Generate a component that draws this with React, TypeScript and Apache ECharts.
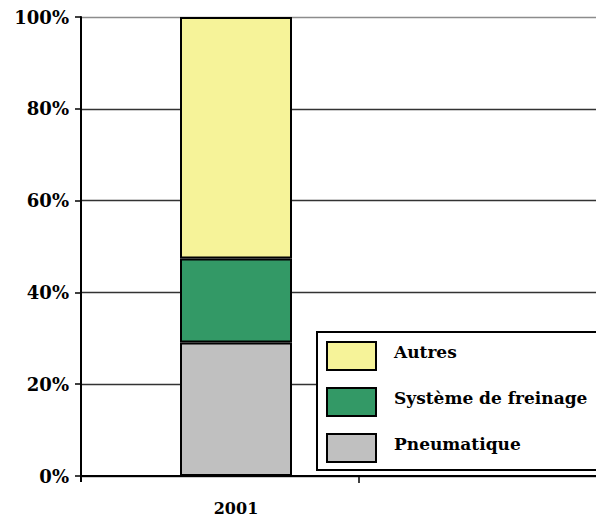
import React, { useEffect, useRef } from "react";
import * as echarts from "echarts";

const categories = ["2001"];
const pneumatique = [29.1];
const freinage = [18.3];
const autres = [52.6];
const yTicks = [0, 20, 40, 60, 80, 100];
const legendOrder = ["Autres", "Système de freinage", "Pneumatique"];

const FONT = "DejaVu Serif";

export default function App() {
  const ref = useRef<HTMLDivElement>(null);
  useEffect(() => {
    if (!ref.current) return;
    const chart = echarts.init(ref.current, null, { renderer: "svg" });
    const barStyle = (color: string) => ({
      color,
      borderColor: "#000",
      borderWidth: 2,
    });
    chart.setOption({
      animation: false,
      backgroundColor: "#fff",
      textStyle: { fontFamily: FONT },
      grid: [
        { left: 81, right: 0, top: 17, bottom: 43 },
        { left: 81, width: 310, top: 17, bottom: 43 },
      ],
      xAxis: [
        {
          type: "category",
          gridIndex: 0,
          data: [""],
          axisLine: { show: true, lineStyle: { color: "#000", width: 2 } },
          axisTick: { show: false },
          axisLabel: { show: false },
          splitLine: { show: false },
        },
        {
          type: "category",
          gridIndex: 1,
          data: categories,
          axisLine: { show: false },
          axisTick: { show: false },
          axisLabel: {
            margin: 24,
            color: "#000",
            fontFamily: FONT,
            fontWeight: "bold",
            fontSize: 16,
          },
        },
      ],
      yAxis: [
        {
          type: "value",
          gridIndex: 0,
          min: yTicks[0],
          max: yTicks[yTicks.length - 1],
          interval: 20,
          axisLine: { show: true, lineStyle: { color: "#000", width: 2 } },
          axisTick: { show: true, length: 6, lineStyle: { color: "#000", width: 1.5 } },
          axisLabel: {
            margin: 12,
            color: "#000",
            fontFamily: FONT,
            fontWeight: "bold",
            fontSize: 18,
            formatter: (v: number) => v + "%",
          },
          splitLine: {
            show: true,
            lineStyle: {
              color: ["#333", "#333", "#333", "#333", "#333", "#8c8c8c"],
              width: 1.3,
            },
          },
        },
        {
          type: "value",
          gridIndex: 1,
          min: yTicks[0],
          max: yTicks[yTicks.length - 1],
          show: false,
          splitLine: { show: false },
        },
      ],
      legend: {
        data: legendOrder,
        icon: "rect",
        orient: "vertical",
        left: 317,
        top: 332,
        padding: [9, 30, 7, 9],
        itemWidth: 49,
        itemHeight: 28,
        itemGap: 16,
        backgroundColor: "#fff",
        borderColor: "#000",
        borderWidth: 2,
        borderRadius: 0,
        itemStyle: { borderColor: "#000", borderWidth: 2 },
        formatter: "{t|{name}}",
        textStyle: {
          fontFamily: FONT,
          fontWeight: "bold",
          fontSize: 17,
          color: "#000",
          padding: [0, 0, 0, 13],
          rich: {
            t: {
              fontFamily: FONT,
              fontWeight: "bold",
              fontSize: 17,
              color: "#000",
              padding: [0, 0, 8, 0],
            },
          },
        },
      },
      graphic: [
        {
          type: "line",
          shape: { x1: 359, y1: 476, x2: 359, y2: 483 },
          style: { stroke: "#000", lineWidth: 1.5 },
        },
        {
          type: "line",
          shape: { x1: 81, y1: 476, x2: 81, y2: 482 },
          style: { stroke: "#000", lineWidth: 2 },
        },
      ],
      series: [
        {
          name: "Pneumatique",
          type: "bar",
          stack: "total",
          xAxisIndex: 1,
          yAxisIndex: 1,
          barWidth: 112,
          data: pneumatique,
          itemStyle: barStyle("#c0c0c0"),
        },
        {
          name: "Système de freinage",
          type: "bar",
          stack: "total",
          xAxisIndex: 1,
          yAxisIndex: 1,
          barWidth: 112,
          data: freinage,
          itemStyle: barStyle("#339966"),
        },
        {
          name: "Autres",
          type: "bar",
          stack: "total",
          xAxisIndex: 1,
          yAxisIndex: 1,
          barWidth: 112,
          data: autres,
          itemStyle: barStyle("#f6f399"),
        },
      ],
    });
    return () => chart.dispose();
  }, []);
  return <div ref={ref} style={{ width: 596, height: 519, position: "absolute", left: 0, top: 0 }} />;
}
